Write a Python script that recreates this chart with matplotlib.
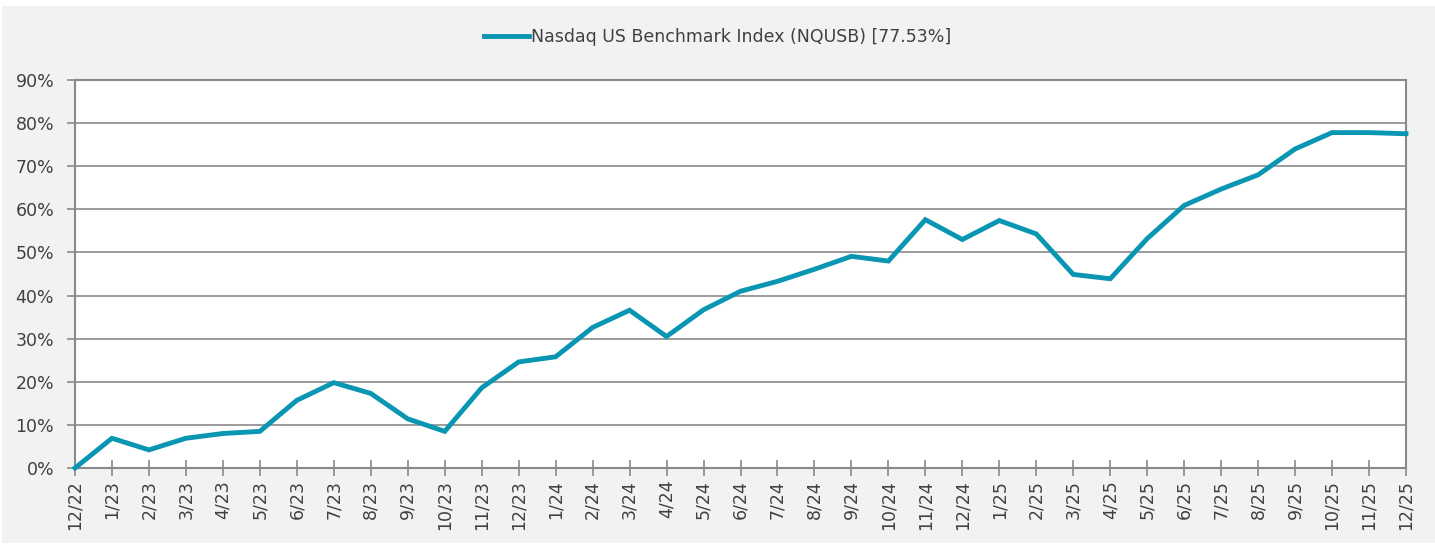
import matplotlib
matplotlib.use('Agg')
import matplotlib.pyplot as plt
from matplotlib.patches import Rectangle
from matplotlib.ticker import FuncFormatter

plt.rcParams['font.family'] = ['DejaVu Sans']

# ── data (cumulative return, %) ──────────────────────────────────────────────
MONTHS = ['12/22',
          '1/23', '2/23', '3/23', '4/23', '5/23', '6/23', '7/23', '8/23', '9/23', '10/23', '11/23', '12/23',
          '1/24', '2/24', '3/24', '4/24', '5/24', '6/24', '7/24', '8/24', '9/24', '10/24', '11/24', '12/24',
          '1/25', '2/25', '3/25', '4/25', '5/25', '6/25', '7/25', '8/25', '9/25', '10/25', '11/25', '12/25']
NQUSB = [0.0,
         6.9, 4.2, 6.9, 8.0, 8.5, 15.7, 19.8, 17.3, 11.4, 8.5, 18.6, 24.6,
         25.8, 32.6, 36.6, 30.5, 36.7, 41.0, 43.3, 46.1, 49.1, 48.0, 57.6, 53.0,
         57.4, 54.3, 44.9, 43.9, 53.2, 60.9, 64.7, 68.0, 74.0, 77.8, 77.8, 77.53]
SERIES_LABEL = 'Nasdaq US Benchmark Index (NQUSB) [77.53%]'
Y_TICKS = [0, 10, 20, 30, 40, 50, 60, 70, 80, 90]

LINE_COLOR = '#0996b3'
GRID_COLOR = '#8a8a8a'
TEXT_COLOR = '#404040'
BG = '#f2f2f2'
FS = 12.5

fig = plt.figure(figsize=(14.35, 5.44), dpi=100, facecolor='white')
fig.add_artist(Rectangle((2 / 1435, 1 / 544), 1 - 2 / 1435, 1 - 7 / 544,
                         transform=fig.transFigure, facecolor=BG,
                         edgecolor='none', zorder=-10))
ax = fig.add_axes([75 / 1435, 1 - 468 / 544, (1406 - 75) / 1435, (468 - 80) / 544])
ax.set_facecolor('white')

x = list(range(len(MONTHS)))
ax.plot(x, NQUSB, color=LINE_COLOR, linewidth=3.5, solid_joinstyle='miter',
        label=SERIES_LABEL, zorder=3, clip_on=False)

ax.set_xlim(0, len(MONTHS) - 1)
ax.set_ylim(0, 90)
ax.set_yticks(Y_TICKS)
ax.yaxis.set_major_formatter(FuncFormatter(lambda v, _: f'{v:.0f}%'))
ax.set_xticks(x)
ax.set_xticklabels(MONTHS, rotation=90, fontsize=FS, color=TEXT_COLOR)
for lab in ax.get_yticklabels():
    lab.set_fontsize(FS)
    lab.set_color(TEXT_COLOR)

ax.grid(True, axis='y', color=GRID_COLOR, linewidth=1.2, zorder=1)
ax.set_axisbelow(True)
for sp in ax.spines.values():
    sp.set_color(GRID_COLOR)
    sp.set_linewidth(1.5)

ax.tick_params(axis='y', direction='out', length=6, width=1.2, color=GRID_COLOR, pad=9)
ax.tick_params(axis='x', direction='inout', length=11, width=1.2, color=GRID_COLOR, pad=3)

leg = ax.legend(loc='center', bbox_to_anchor=(0.5, 1 - 37 / 544),
                bbox_transform=fig.transFigure, frameon=False,
                fontsize=FS, handlelength=2.6, handletextpad=0.15)
for t in leg.get_texts():
    t.set_color(TEXT_COLOR)

fig.savefig('out.png', dpi=100, facecolor=fig.get_facecolor())
